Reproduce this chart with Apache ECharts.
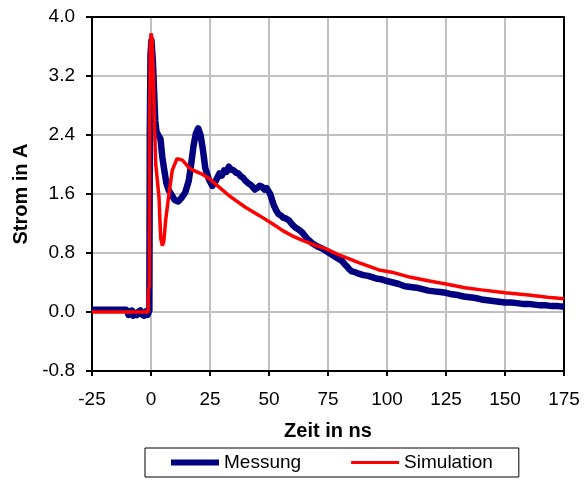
<!DOCTYPE html>
<html>
<head>
<meta charset="utf-8">
<script src="https://cdn.jsdelivr.net/npm/echarts@6/dist/echarts.min.js"></script>
<style>
  html, body { margin: 0; padding: 0; background: #fff; }
  #chart { width: 584px; height: 480px; }
</style>
</head>
<body>
<div id="chart"></div>
<script type="text/javascript">
// Messung (gemessen) - [Zeit ns, Strom A]
var messung = [
  [-25, 0.03], [-20, 0.03], [-15, 0.03], [-10.5, 0.03], [-10, 0.0], [-9.5, -0.04],
  [-9, 0.01], [-8.5, -0.03], [-8, 0.02], [-7.5, -0.05], [-7, -0.01], [-6.5, 0.01],
  [-6, -0.04], [-5.5, 0.0], [-5, -0.02], [-4.5, 0.02], [-4, -0.03], [-3.5, -0.01],
  [-3, -0.05], [-2.5, -0.02], [-2, 0.01], [-1.5, -0.04], [-1, -0.02], [-0.7, 0.02],
  [-0.5, 2.5], [-0.2, 3.5], [0.2, 3.68], [0.8, 3.4], [1.3, 3.0], [1.8, 2.6],
  [2.3, 2.45], [3, 2.4], [4, 2.35], [4.8, 2.1], [5.5, 1.95], [6.5, 1.75],
  [7.5, 1.65], [8.5, 1.6], [10, 1.52], [11.5, 1.5], [13, 1.55], [14.5, 1.62],
  [16, 1.78], [17, 2.0], [18, 2.25], [19, 2.42], [20, 2.49], [21, 2.4],
  [22, 2.2], [23, 1.95], [24.5, 1.8], [26, 1.71], [27.5, 1.78], [29, 1.88],
  [30, 1.85], [31, 1.92], [32, 1.9], [33, 1.97], [34, 1.93], [35, 1.92],
  [36, 1.89], [37, 1.88], [38, 1.84], [39, 1.82], [40, 1.78], [41, 1.75],
  [42, 1.73], [43, 1.7], [44, 1.66], [45, 1.68], [46, 1.71], [47, 1.7],
  [48, 1.66], [49, 1.68], [50.5, 1.6], [52, 1.45], [53, 1.38], [54, 1.33],
  [55, 1.31], [56, 1.28], [57, 1.27], [58.5, 1.24], [60, 1.18], [61, 1.15],
  [62.5, 1.12], [64, 1.08], [65, 1.04], [66, 1.0], [67, 0.97], [68, 0.94],
  [69.5, 0.91], [71, 0.88], [72.5, 0.86], [74, 0.83], [75.5, 0.8], [77, 0.77],
  [79, 0.73], [81, 0.69], [82, 0.65], [83, 0.62], [84, 0.58], [85, 0.55],
  [86.5, 0.54], [88, 0.52], [90, 0.5], [92, 0.49], [94, 0.47], [96, 0.45],
  [98, 0.44], [100, 0.42], [102.5, 0.4], [105, 0.38], [107.5, 0.35], [110, 0.34],
  [112.5, 0.33], [115, 0.31], [117.5, 0.29], [120, 0.28], [122.5, 0.27], [125, 0.26],
  [127.5, 0.24], [130, 0.23], [132.5, 0.21], [135, 0.2], [137.5, 0.19], [140, 0.17],
  [142.5, 0.16], [145, 0.15], [147.5, 0.14], [150, 0.13], [152.5, 0.13], [155, 0.12],
  [157.5, 0.11], [160, 0.11], [162.5, 0.1], [165, 0.09], [167.5, 0.09], [170, 0.08],
  [172.5, 0.08], [175, 0.07]
];

// Simulation - [Zeit ns, Strom A]
var simulation = [
  [-25, 0.0], [-1.2, 0.0], [-1.1, 0.3], [-0.7, 0.35], [-0.6, 2.5], [-0.3, 3.6],
  [0, 3.78], [0.5, 3.7], [1, 3.2], [1.5, 2.5], [2, 2.0], [2.5, 1.85],
  [3.4, 1.55], [4.1, 1.0], [4.8, 0.9], [5.4, 0.95], [6.2, 1.24], [7.6, 1.6],
  [9, 1.92], [11, 2.08], [13.3, 2.06], [16, 1.96], [18, 1.92], [21.6, 1.87],
  [25, 1.8], [29, 1.69], [33, 1.58], [36, 1.51], [40, 1.42], [45.8, 1.31],
  [51.3, 1.2], [56, 1.1], [60, 1.03], [65, 0.96], [70, 0.9], [74, 0.86],
  [80, 0.77], [88, 0.67], [96.6, 0.57], [102, 0.54], [110, 0.47], [118, 0.42],
  [125, 0.38], [133, 0.33], [140, 0.3], [150, 0.26], [160, 0.23], [168, 0.2],
  [175, 0.18]
];

var xTicks = { min: -25, max: 175, step: 25 };
var yTicks = { min: -0.8, max: 4.0, step: 0.8 };

var chart = echarts.init(document.getElementById('chart'));
var fontFam = '"Liberation Sans", Arial, sans-serif';

// Rahmen oben / rechts
var frameX = {
  type: 'value', position: 'top',
  min: xTicks.min, max: xTicks.max, interval: xTicks.step,
  axisLine: { show: true, onZero: false, lineStyle: { color: '#000', width: 2 } },
  axisTick: { show: false }, axisLabel: { show: false }, splitLine: { show: false }
};
var frameY = {
  type: 'value', position: 'right',
  min: yTicks.min, max: yTicks.max, interval: yTicks.step,
  axisLine: { show: true, onZero: false, lineStyle: { color: '#000', width: 2 } },
  axisTick: { show: false }, axisLabel: { show: false }, splitLine: { show: false }
};

var option = {
  backgroundColor: '#fff',
  animation: false,
  textStyle: { fontFamily: fontFam },
  grid: { left: 92, right: 20, top: 17, bottom: 109 },
  legend: {
    left: 145, top: 448,
    padding: [5, 26, 5, 26],
    itemGap: 50,
    itemWidth: 48, itemHeight: 6,
    borderColor: '#000', borderWidth: 1, borderRadius: 0,
    textStyle: { fontSize: 19, color: '#000', fontFamily: fontFam },
    data: [
      { name: 'Messung', icon: 'path://M0,0H48V6H0Z', itemStyle: { color: '#000080' } },
      { name: 'Simulation', icon: 'path://M0,0H48V3H0Z', itemStyle: { color: '#ff0000' } }
    ]
  },
  xAxis: [{
    type: 'value',
    min: xTicks.min, max: xTicks.max, interval: xTicks.step,
    name: 'Zeit in ns',
    nameLocation: 'middle',
    nameGap: 50,
    nameTextStyle: { fontSize: 20, fontWeight: 'bold', color: '#000', fontFamily: fontFam },
    axisLine: { onZero: false, lineStyle: { color: '#000', width: 2 } },
    axisTick: { show: true, inside: false, length: 5, lineStyle: { color: '#000', width: 2 } },
    axisLabel: { fontSize: 19, color: '#000', margin: 19 },
    splitLine: { show: true, lineStyle: { color: '#c0c0c0', width: 2 } }
  }, frameX],
  yAxis: [{
    type: 'value',
    min: yTicks.min, max: yTicks.max, interval: yTicks.step,
    name: 'Strom in A',
    nameLocation: 'middle',
    nameGap: 60,
    nameRotate: 90,
    nameTextStyle: { fontSize: 20, fontWeight: 'bold', color: '#000', fontFamily: fontFam },
    axisLine: { show: true, onZero: false, lineStyle: { color: '#000', width: 2 } },
    axisTick: { show: true, inside: false, length: 6, lineStyle: { color: '#000', width: 2 } },
    axisLabel: {
      fontSize: 19, color: '#000', margin: 17,
      formatter: function (v) { return v.toFixed(1); }
    },
    splitLine: { show: true, lineStyle: { color: '#c0c0c0', width: 2 } }
  }, frameY],
  series: [
    {
      name: 'Messung',
      type: 'line',
      data: messung,
      symbol: 'none',
      lineStyle: { color: '#000080', width: 6.5, join: 'round' },
      itemStyle: { color: '#000080' },
      z: 2
    },
    {
      name: 'Simulation',
      type: 'line',
      data: simulation,
      symbol: 'none',
      lineStyle: { color: '#ff0000', width: 3.5 },
      itemStyle: { color: '#ff0000' },
      z: 3
    }
  ]
};

chart.setOption(option);
</script>
</body>
</html>
